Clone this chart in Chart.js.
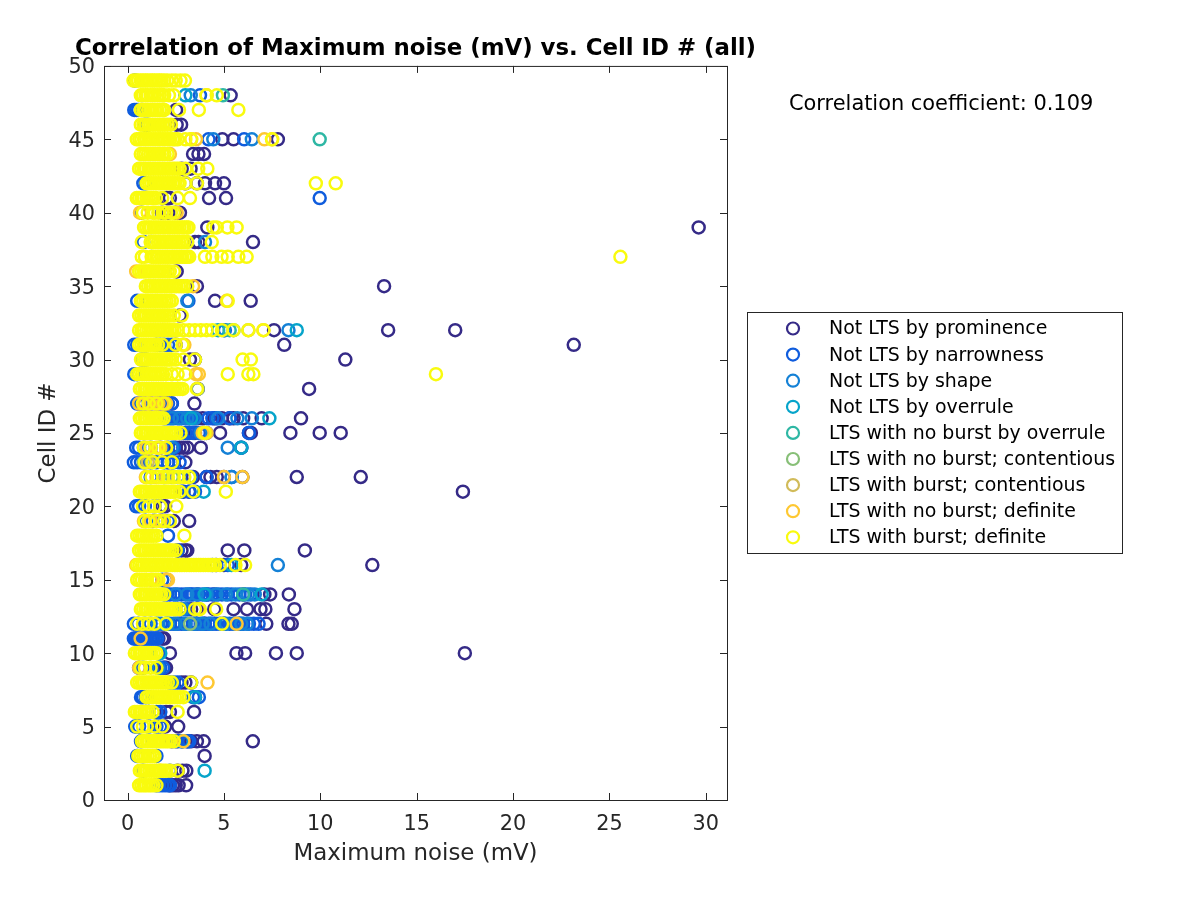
<!DOCTYPE html>
<html><head><meta charset="utf-8"><style>html,body{margin:0;padding:0;background:#fff}canvas{display:block}</style>
<script src="https://cdn.jsdelivr.net/npm/chart.js@4/dist/chart.umd.min.js"></script></head>
<body><canvas id="c" width="1200" height="900"></canvas>
<script>
// Each row: [Cell ID, noise, noise, ...]
const notProminence=[[1,2.2,2.35,2.5,2.65,3.04],[2,2.6,2.85,3.05],[3,4.0],[4,2.3,2.6,2.85,3.1,3.3,3.6,3.95,6.5],[5,1.95,2.63],[6,2.0,2.2,3.45],[7,3.5],[8,2.8,3.0,3.3],[9,1.9,2.0],[10,2.2,5.65,6.1,7.7,8.78,17.5],[11,1.6,1.8,1.9],[12,3.5,4.0,5.0,5.8,7.2,8.35,8.52],[13,2.7,3.3,3.6,4.5,5.5,6.2,6.9,7.15,8.66],[14,3.6,4.1,4.5,6.0,7.1,7.4,8.37],[15,2.0],[16,4.6,5.0,5.9,12.7],[17,2.6,2.8,3.0,3.1,5.2,6.06,9.2],[19,2.4,3.2],[20,1.8,1.95],[21,2.9,3.2,17.4],[22,3.4,4.1,4.3,4.63,5.0,5.96,8.78,12.1],[23,2.1,2.3,3.0],[24,2.5,2.7,2.9,3.1,3.8,5.9],[25,3.2,3.5,4.0,4.8,6.3,6.4,8.45,9.97,11.06],[26,3.6,3.9,4.5,4.9,5.3,5.5,6.0,6.96,9.0],[27,2.0,2.3,3.47],[28,3.64,9.42],[30,3.24,3.5,11.3],[31,2.5,8.13,23.15],[32,7.6,13.52,17.0],[33,2.72],[34,4.54,6.39],[35,3.6,13.31],[36,2.55],[38,3.5,3.68,6.51],[39,4.14,29.63],[40,1.8,2.1,2.5,2.72],[41,2.03,2.2,4.23,5.11],[42,3.0,3.6,4.02,4.54,5.0],[43,2.81,3.27],[44,3.4,3.68,3.97],[45,4.92,5.5,7.8],[46,2.55,2.78],[47,2.52],[48,5.35]];
const notNarrowness=[[1,1.5,1.65,1.8,1.95,2.1,2.2],[2,.8,2.2],[3,.5,1.5],[4,.7,2.5,2.8,3.1,3.2],[5,.4,.5,.6,1.1,1.5,1.7],[6,1.5,1.7],[7,.7,.8,.95,1.1,3.7,3.4],[8,2.4,2.6],[9,.6,.8,1.7,1.85],[10,1.6],[11,.33,.42,.5,.6,.68,.75,.85,.95,1.05,1.15,1.25,1.35,1.45,1.55],[12,.33,.55,.9,1.2,1.5,1.75,2.0,2.2,2.4,2.6,2.8,3.0,3.2,3.4,3.6,3.8,4.0,4.2,4.4,4.6,4.8,5.0,5.3,5.5,5.8,6.0,6.3,6.55,6.8],[13,2.8,3.1],[14,1.9,2.05,2.2,2.4,2.6,2.8,3.0,3.2,3.4,3.7,3.9,4.2,4.4,4.7,4.9,5.2,5.4,5.8,6.1,6.4],[15,1.8],[16,4.4,5.2],[17,2.6],[18,2.1],[19,.95,1.3,1.8,2.1],[20,.45,.6,.9,1.4,1.7],[21,2.8,3.2,3.5],[22,1.2,1.9,2.6,3.3,4.1,5.4],[23,.33,.5,.7,.9,1.2,1.5,1.9,2.1,2.4,2.7],[24,.45,.6,.85,1.2,1.7,2.1,2.4,5.9],[25,2.8,3.0,3.2,3.4,3.7,4.1,6.3],[26,1.9,2.05,2.2,2.4,2.6,2.8,3.0,3.2,3.4,4.2,4.4,4.6,5.3],[27,.5,.7,.9,1.2,1.5,1.7,1.9,2.1,2.3],[29,.35,.5],[30,.75,.95],[31,.35,.5,1.5,1.7,1.9,2.1,2.3],[32,5.05],[34,.5,3.16],[38,.82,1.25],[41,9.97],[42,.82,.95],[40,.73],[46,.9,1.05],[47,.35,.45,.55,.75],[48,3.76],[49,.38],[45,4.2,6.05],[14,3.3]];
const notShape=[[12,1.6,2.1,2.5,3.0,3.5,3.9,4.3,5.1,5.6,5.9,6.2],[14,2.5,3.1,3.6,4.1,4.6,5.1,5.6,6.25,6.6],[26,2.3,2.7,3.1,3.5,4.7,5.7,6.45],[32,8.35,5.0],[45,4.45,6.45],[48,3.28],[34,3.1],[24,5.2,2.3],[16,7.8],[13,2.9],[25,3.8],[38,4.02],[8,2.2],[9,1.6],[22,5.4]];
const notOverrule=[[2,4.0],[10,1.7],[12,2.0],[14,6.96,4.0],[21,3.95],[26,3.3,7.36],[32,4.7,8.78],[48,3.0],[24,5.9],[4,2.85],[16,5.4],[7,3.5]];
const ltsNoBurstOverrule=[[45,9.97],[48,4.95],[32,5.3],[14,6.0]];
const ltsNoBurstContentious=[[12,3.25],[22,2.3,3.2],[23,.85,1.25],[28,3.64],[32,5.5]];
const ltsBurstContentious=[[22,2.0],[23,1.05],[27,1.2],[32,6.27]];
const ltsNoBurstDefinite=[[2,1.7],[4,2.9],[8,4.15],[9,.6],[11,.68],[12,5.66],[13,3.7],[15,1.2,2.0,2.1],[16,.45],[19,.85,1.2,1.7],[22,.95,1.5,5.0,5.96],[24,1.0,1.5,1.7,2.0],[25,3.9,4.1],[27,.6,.9,1.1,1.4,1.6,1.8,2.0],[29,3.55,3.7],[31,2.95],[32,7.05],[34,5.15],[35,3.4],[36,.45],[40,.65,2.55],[44,2.2],[45,3.3,3.55,7.1,7.5],[47,1.86],[48,4.1]];
const ltsBurstDefinite=[
[49,.31,.44,.55,.69,.8,.93,1.03,1.18,1.29,1.4,1.53,1.65,1.76,1.9,2.07,2.3,2.5,2.75,2.98],
[48,.69,.8,.94,1.05,1.2,1.31,1.42,1.56,1.67,1.81,1.9,2.15,2.4,4.1,4.63],
[47,.69,.82,.93,1.07,1.18,1.3,1.43,1.54,1.68,1.79,1.9,2.67,3.7,5.75],
[46,.69,.83,.94,1.08,1.19,1.32,1.44,1.58,1.69,1.82,1.94,2.08,2.25],
[45,.48,.61,.72,.86,.97,1.1,1.22,1.35,1.47,1.6,1.71,1.85,1.96,2.1,2.21,2.35,2.46,2.6,3.0,3.3,7.5],
[44,.69,.82,.93,1.06,1.18,1.31,1.43,1.56,1.67,1.81,1.92,2.08],
[43,.6,.72,.85,.96,1.1,1.21,1.34,1.46,1.59,1.7,1.83,1.95,2.08,2.19,2.33,2.45,2.58,2.7,3.0,3.67,4.14],
[42,.99,1.12,1.23,1.36,1.48,1.61,1.72,1.86,1.97,2.1,2.22,2.35,2.46,2.6,2.7,3.0,3.6,9.77,10.8],
[41,.48,.6,.73,.84,.98,1.09,1.22,1.34,1.47,1.8,2.6,3.24],
[40,.8,1.05,1.3,1.42,1.6,1.83,2.0,2.25,2.4],
[39,.86,.98,1.11,1.22,1.36,1.47,1.6,1.72,1.85,1.96,2.1,2.21,2.34,2.46,2.59,2.7,2.84,2.95,3.08,3.16,4.45,4.63,5.18,5.66],
[38,.74,1.2,1.33,1.44,1.58,1.69,1.82,1.94,2.07,2.18,2.32,2.43,2.56,2.68,2.81,2.92,3.1,4.37],
[37,.74,.9,1.25,1.37,1.5,1.61,1.74,1.86,1.99,2.1,2.24,2.35,2.48,2.6,2.73,2.84,2.98,3.09,3.2,4.02,4.4,4.88,5.2,5.75,6.18,25.57],
[36,.6,.72,.85,.96,1.1,1.21,1.34,1.46,1.59,1.7,1.83,1.95,2.08,2.19,2.4],
[35,.95,1.07,1.2,1.31,1.44,1.56,1.69,1.8,1.93,2.05,2.18,2.29,2.43,2.54,2.67,2.79,2.92,3.1],
[34,.69,.81,.94,1.05,1.18,1.3,1.43,1.54,1.67,1.79,1.92,2.03,2.17,2.3,5.2],
[33,.6,.72,.85,.96,1.09,1.21,1.34,1.45,1.58,1.7,1.83,1.94,2.07,2.19,2.4,2.81],
[32,.6,.73,.84,.97,1.09,1.22,1.33,1.46,1.58,1.71,1.82,1.95,2.07,2.2,2.31,2.45,2.6,2.9,3.2,3.5,3.8,4.1,4.4,4.9,5.5,6.27,7.05],
[31,.6,.72,.85,.96,1.09,1.21,1.34,1.45,1.58,1.8,2.5,2.85],
[30,.7,.82,.95,1.06,1.19,1.31,1.44,1.55,1.68,1.8,1.93,2.04,2.17,2.29,2.5,2.9,3.5,5.97,6.4],
[29,.5,.62,.75,.86,.99,1.11,1.24,1.35,1.48,1.6,1.73,1.84,2.0,2.3,2.6,3.0,5.2,6.27,6.53,16.0],
[28,.64,.76,.89,1.0,1.13,1.25,1.38,1.49,1.62,1.74,1.87,1.98,2.11,2.23,2.36,2.47,2.6,2.72,2.85,3.6],
[27,.8,1.1,1.5,1.9],
[26,.64,.76,.89,1.0,1.13,1.25,1.38,1.49,1.62,1.74,1.87],
[25,.69,.81,.94,1.05,1.18,1.3,1.43,1.54,1.67,1.79,1.92,2.03,2.16,2.28,2.41,2.52,2.75,4.0],
[24,.85,1.2,1.6,2.0],
[23,.9,1.3,1.8,2.3],
[22,1.0,1.25,1.6,1.85,2.1,2.4,2.65,2.95,3.2],
[21,.64,.76,.89,1.0,1.13,1.25,1.38,1.49,1.62,1.74,1.87,1.98,2.11,2.23,2.36,2.47,2.7,3.4,5.1],
[20,.8,1.1,1.4,1.7,2.53],
[19,.9,1.1,1.5,1.9,2.2],
[18,.5,.62,.75,.86,.99,1.11,1.24,1.35,1.5,2.95],
[17,.6,.72,.85,.96,1.09,1.21,1.34,1.45,1.58,1.7,1.83,1.94,2.07,2.19,2.32,2.5],
[16,.5,.62,.75,.86,.99,1.11,1.24,1.35,1.48,1.6,1.73,1.84,1.97,2.09,2.22,2.33,2.46,2.58,2.71,2.82,2.95,3.07,3.2,3.31,3.44,3.56,3.69,3.8,3.93,4.05,4.18,4.29,4.42,4.54,4.8,5.6,6.1],
[15,.5,.62,.75,.9,1.0,1.3,1.45,1.6],
[14,.64,.76,.89,1.0,1.13,1.25,1.38,1.49,1.62,1.74,1.9],
[13,.69,.81,.94,1.05,1.18,1.3,1.43,1.54,1.67,1.79,1.92,2.03,2.16,2.28,2.41,2.52,2.7,3.5,3.75,4.6],
[12,.5,.8,1.1,1.4,2.0,4.9],
[10,.38,.5,.63,.74,.87,.99,1.12,1.23,1.36,1.5],
[9,.7,.9,1.2,1.5],
[8,.5,.62,.75,.86,.99,1.11,1.24,1.35,1.48,1.6,1.73,1.84,1.97,2.09,2.3,3.3],
[7,.99,1.11,1.24,1.35,1.48,1.6,1.73,1.84,1.97,2.09,2.22,2.33,2.46,2.58,2.71,2.9],
[6,.38,.5,.63,.74,.87,.99,1.12,1.3,2.6],
[5,.5,.8,1.0,1.4,1.8],
[4,.75,.87,1.0,1.11,1.24,1.36,1.49,1.6,1.73,1.85,1.98,2.09,2.22,2.4],
[3,.56,.68,.81,.92,1.05,1.17,1.3,1.4],
[2,.64,.76,.89,1.0,1.13,1.25,1.38,1.49,1.62,1.74,1.87,2.0,2.2,2.6],
[1,.6,.72,.85,.96,1.09,1.21,1.34,1.5]];
const seriesNames=["Not LTS by prominence","Not LTS by narrowness","Not LTS by shape","Not LTS by overrule","LTS with no burst by overrule","LTS with no burst; contentious","LTS with burst; contentious","LTS with no burst; definite","LTS with burst; definite"];
const seriesRows=[notProminence,notNarrowness,notShape,notOverrule,ltsNoBurstOverrule,ltsNoBurstContentious,ltsBurstContentious,ltsNoBurstDefinite,ltsBurstDefinite];
const seriesColors=["#352A87","#0F5CDD","#1481D6","#06A4CA","#2EB7A4","#87BF77","#D1BB59","#FEC832","#F9FB0E"];
const xTicksStep=5, yTicksStep=5;
const chartTitle="Correlation of Maximum noise (mV) vs. Cell ID # (all)";
const xLabel="Maximum noise (mV)", yLabel="Cell ID #";
const annotation="Correlation coefficient: 0.109";
const FONT='"DejaVu Sans"';
const INK='#262626';

const datasets=seriesNames.map((label,i)=>({
  label,
  data:seriesRows[i].flatMap(r=>r.slice(1).map(x=>({x,y:r[0]}))),
  borderColor:seriesColors[i],backgroundColor:'rgba(0,0,0,0)',
  pointRadius:6,pointBorderWidth:2.5,pointHoverRadius:6,
  order:seriesNames.length-1-i,showLine:false
}));

const frame={id:'frame',
  afterLayout(ch){ if(ch.titleBlock){ch.titleBlock.left-=40;ch.titleBlock.right+=40;} },
  beforeDraw(ch){ ch.scales.y.getLabelItems().forEach(it=>{it.options.translation[1]+=2;}); },
  afterDatasetsDraw(ch){
    const {ctx,chartArea:a,scales:{x,y}}=ch;
    ctx.save();ctx.strokeStyle=INK;ctx.lineWidth=1;
    ctx.strokeRect(a.left+.5,a.top+.5,a.right-a.left,a.bottom-a.top);
    ctx.beginPath();
    x.ticks.forEach(t=>{const p=Math.round(x.getPixelForValue(t.value))+.5;ctx.moveTo(p,a.bottom);ctx.lineTo(p,a.bottom-7);ctx.moveTo(p,a.top);ctx.lineTo(p,a.top+7);});
    y.ticks.forEach(t=>{const p=Math.round(y.getPixelForValue(t.value))+.5;ctx.moveTo(a.left,p);ctx.lineTo(a.left+7,p);ctx.moveTo(a.right,p);ctx.lineTo(a.right-7,p);});
    ctx.stroke();
    ctx.fillStyle='#000';ctx.font='20.9px '+FONT;ctx.textBaseline='middle';ctx.textAlign='left';
    ctx.fillText(annotation,789,105);
    ctx.fillStyle='#fff';ctx.fillRect(747.5,312.5,375,241);
    ctx.strokeStyle=INK;ctx.strokeRect(747.5,312.5,375,241);
    ctx.font='18.95px '+FONT;
    ch.data.datasets.forEach((d,i)=>{
      const cy=328.5+i*26.1;
      ctx.beginPath();ctx.arc(793,cy,6,0,Math.PI*2);ctx.lineWidth=2.2;ctx.strokeStyle=d.borderColor;ctx.stroke();
      ctx.fillStyle='#000';ctx.fillText(d.label,829,cy+1);
    });
    ctx.restore();
  }};

new Chart(document.getElementById('c'),{
  type:'scatter',data:{datasets},plugins:[frame],
  options:{responsive:false,animation:false,devicePixelRatio:1,
    layout:{padding:{left:0,right:473,top:0,bottom:0}},
    plugins:{legend:{display:false},tooltip:{enabled:false},
      title:{display:true,text:chartTitle,fullSize:false,color:'#000',font:{family:FONT,size:22.85,weight:'bold',lineHeight:1.2},padding:{top:35,bottom:3.5}}},
    scales:{
      x:{type:'linear',min:-1.22,max:31.1,afterFit:s=>{s.height=100;},
        grid:{display:false,drawTicks:false},border:{display:false},
        ticks:{stepSize:xTicksStep,includeBounds:false,maxRotation:0,color:INK,padding:12,font:{family:FONT,size:20.8}},
        title:{display:true,text:xLabel,color:INK,font:{family:FONT,size:22.9},padding:{top:7,bottom:32}}},
      y:{type:'linear',min:0,max:50,afterFit:s=>{s.width=104;},
        grid:{display:false,drawTicks:false},border:{display:false},
        ticks:{stepSize:yTicksStep,includeBounds:false,color:INK,padding:9,font:{family:FONT,size:20.8}},
        title:{display:true,text:yLabel,color:INK,font:{family:FONT,size:22.9},padding:{top:35,bottom:8}}}
    }}
});
</script></body></html>
